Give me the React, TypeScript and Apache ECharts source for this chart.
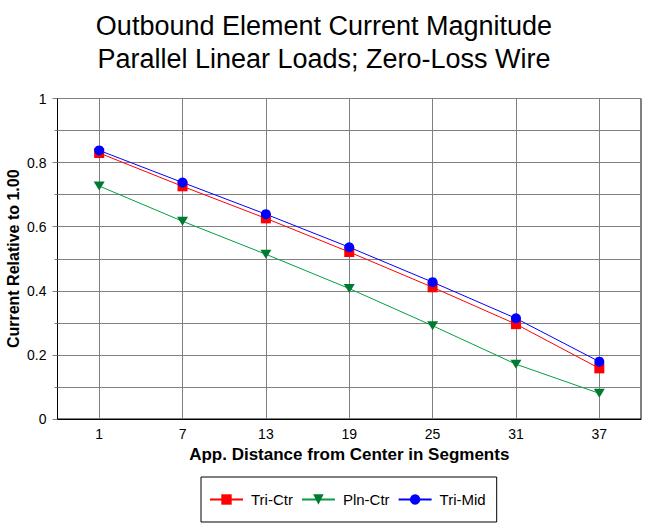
import React, { useEffect, useRef } from "react";
import * as echarts from "echarts";

const categories = ["1", "7", "13", "19", "25", "31", "37"];
const triCtr = [0.83, 0.726, 0.626, 0.521, 0.411, 0.296, 0.158];
const plnCtr = [0.727, 0.617, 0.514, 0.407, 0.291, 0.171, 0.08];
const triMid = [0.838, 0.738, 0.639, 0.536, 0.427, 0.314, 0.179];
const yTicks = [0, 0.2, 0.4, 0.6, 0.8, 1];

const FONT = "'Liberation Sans', Arial, sans-serif";

export default function App() {
  const ref = useRef<HTMLDivElement>(null);
  useEffect(() => {
    document.body.style.margin = "0";
    const chart = echarts.init(ref.current!, null, { renderer: "svg" });
    chart.setOption({
      animation: false,
      backgroundColor: "#fff",
      title: {
        text: "Outbound Element Current Magnitude\nParallel Linear Loads; Zero-Loss Wire",
        left: "center",
        top: 4,
        textStyle: { fontFamily: FONT, fontSize: 27, fontWeight: "normal", color: "#000", lineHeight: 33 },
      },
      grid: {
        left: 57.5,
        right: 7,
        top: 98.5,
        bottom: 109,
        containLabel: false,
        outerBoundsMode: "none",
        show: true,
        borderColor: "#000",
        borderWidth: 1,
        backgroundColor: "#fff",
      },
      legend: {
        left: 201,
        top: 477,
        width: 296,
        padding: [15, 11, 15, 8],
        borderColor: "#000",
        borderWidth: 1,
        itemWidth: 33,
        itemHeight: 13,
        itemGap: 8,
        textStyle: { fontFamily: FONT, fontSize: 15, color: "#000", padding: [0, 0, 0, 3] },
        data: ["Tri-Ctr", "Pln-Ctr", "Tri-Mid"],
      },
      xAxis: {
        type: "category",
        data: categories,
        boundaryGap: true,
        name: "App. Distance from Center in Segments",
        nameLocation: "middle",
        nameGap: 24,
        nameTextStyle: { fontFamily: FONT, fontSize: 17, fontWeight: "bold", color: "#000" },
        axisLine: { lineStyle: { color: "#000", width: 1 } },
        axisTick: { show: false },
        axisLabel: { fontFamily: FONT, fontSize: 14, color: "#000", margin: 8 },
        splitLine: { show: true, alignWithLabel: true, lineStyle: { color: "#808080", width: 1 } },
      },
      yAxis: {
        type: "value",
        min: 0,
        max: 1,
        interval: 0.2,
        name: "Current Relative to 1.00",
        nameLocation: "middle",
        nameGap: 36,
        nameMoveOverlap: false,
        nameTextStyle: { fontFamily: FONT, fontSize: 16, fontWeight: "bold", color: "#000" },
        axisLine: { show: true, lineStyle: { color: "#000", width: 1 } },
        axisTick: { show: true, length: 5, lineStyle: { color: "#808080" } },
        minorTick: { show: true, splitNumber: 2, length: 3, lineStyle: { color: "#808080" } },
        minorSplitLine: { show: true, lineStyle: { color: "#808080", width: 1 } },
        axisLabel: {
          fontFamily: FONT,
          fontSize: 14,
          color: "#000",
          margin: 11,
          formatter: (v: number) => {
            const t = yTicks.find((x) => Math.abs(x - v) < 1e-6);
            return t === undefined ? "" : String(t);
          },
        },
        splitLine: { show: true, lineStyle: { color: "#808080", width: 1 } },
      },
      series: [
        {
          name: "Tri-Ctr",
          type: "line",
          data: triCtr,
          symbol: "rect",
          symbolSize: 10,
          color: "#ff0000",
          itemStyle: { color: "#ff0000" },
          lineStyle: { color: "#ff0000", width: 1 },
        },
        {
          name: "Pln-Ctr",
          type: "line",
          data: plnCtr,
          symbol: "triangle",
          symbolRotate: 180,
          symbolSize: [11, 9],
          color: "#007a33",
          itemStyle: { color: "#007a33" },
          lineStyle: { color: "#00a040", width: 1 },
        },
        {
          name: "Tri-Mid",
          type: "line",
          data: triMid,
          symbol: "circle",
          symbolSize: 10,
          color: "#0000ff",
          itemStyle: { color: "#0000ff" },
          lineStyle: { color: "#0000ff", width: 1 },
        },
      ],
    });
    return () => chart.dispose();
  }, []);
  return <div ref={ref} style={{ width: 648, height: 528 }} />;
}
